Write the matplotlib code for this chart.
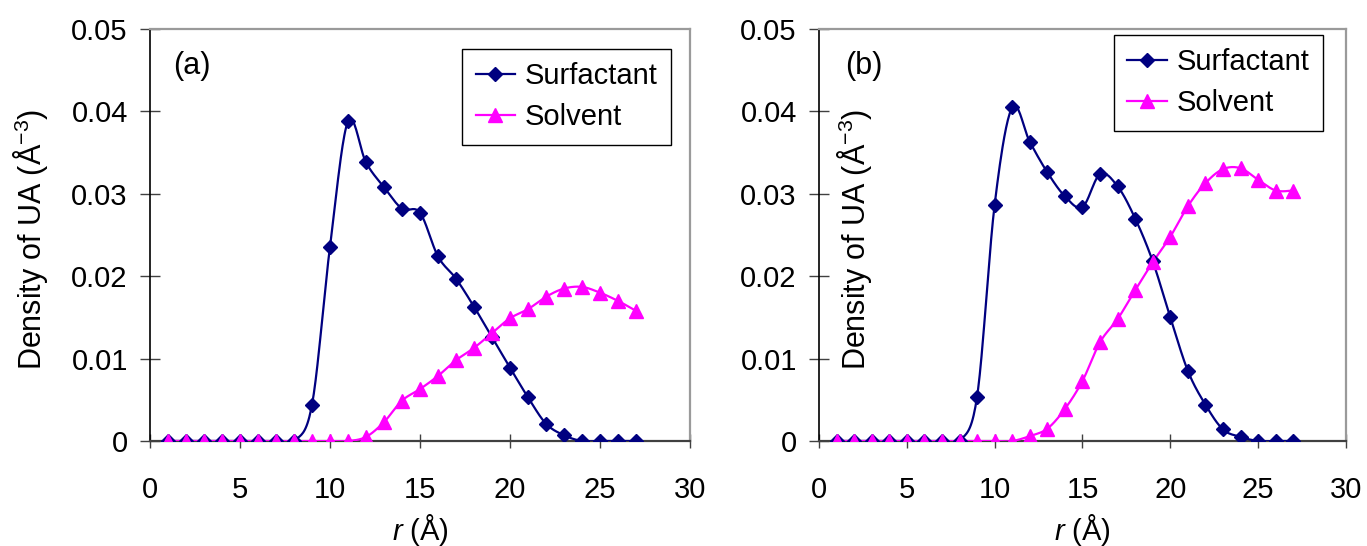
import numpy as np
import matplotlib
matplotlib.use("Agg")
import matplotlib.pyplot as plt
from matplotlib.lines import Line2D

plt.rcParams['font.family'] = ['Liberation Sans', 'DejaVu Sans']
plt.rcParams['mathtext.fontset'] = 'custom'
plt.rcParams['mathtext.rm'] = 'Liberation Sans'
plt.rcParams['mathtext.it'] = 'Liberation Sans:italic'

r = list(range(1, 28))

surf_a = [0, 0, 0, 0, 0, 0, 0, 0, 0.0044, 0.0236, 0.0388, 0.0338, 0.0308, 0.0282,
          0.0277, 0.0224, 0.0197, 0.0163, 0.0126, 0.0089, 0.0053, 0.0021, 0.0007,
          0, 0, 0, 0]
solv_a = [0, 0, 0, 0, 0, 0, 0, 0, 0, 0, 0, 0.0005, 0.0023, 0.0049, 0.0063, 0.0079,
          0.0098, 0.0113, 0.0131, 0.0149, 0.0160, 0.0175, 0.0185, 0.0187, 0.0180,
          0.0170, 0.0158]

surf_b = [0, 0, 0, 0, 0, 0, 0, 0, 0.0054, 0.0287, 0.0405, 0.0363, 0.0326, 0.0297,
          0.0284, 0.0324, 0.0309, 0.0270, 0.0218, 0.0150, 0.0085, 0.0044, 0.0014,
          0.0005, 0, 0, 0]
solv_b = [0, 0, 0, 0, 0, 0, 0, 0, 0, 0, 0, 0.0006, 0.0015, 0.0039, 0.0073, 0.0120,
          0.0148, 0.0183, 0.0217, 0.0248, 0.0285, 0.0313, 0.0330, 0.0331, 0.0317,
          0.0304, 0.0304]

panel_labels = ['(a)', '(b)']
series_names = ['Surfactant', 'Solvent']
xticks = [0, 5, 10, 15, 20, 25, 30]
yticks = [0, 0.01, 0.02, 0.03, 0.04, 0.05]
ytick_labels = ['0', '0.01', '0.02', '0.03', '0.04', '0.05']

NAVY = '#000080'
MAG = '#FF00FF'


def smooth(x, y, n=20):
    """Excel-like smoothed line (Catmull-Rom Bezier) through the data points."""
    x = np.asarray(x, float)
    y = np.asarray(y, float)
    P = np.column_stack([x, y])
    out = [P[0]]
    t = np.linspace(0, 1, n + 1)[1:]
    for i in range(len(P) - 1):
        p0 = P[i - 1] if i > 0 else P[i]
        p1 = P[i]
        p2 = P[i + 1]
        p3 = P[i + 2] if i + 2 < len(P) else P[i + 1]
        c1 = p1 + (p2 - p0) / 6.0
        c2 = p2 - (p3 - p1) / 6.0
        for tt in t:
            b = ((1 - tt) ** 3) * p1 + 3 * ((1 - tt) ** 2) * tt * c1 + \
                3 * (1 - tt) * tt ** 2 * c2 + tt ** 3 * p2
            out.append(b)
    out = np.array(out)
    return out[:, 0], out[:, 1]


fig = plt.figure(figsize=(13.67, 5.46), dpi=100)
H = 546.0
W = 1367.0
ax_a = fig.add_axes([150 / W, (H - 441) / H, 540 / W, 412 / H])
ax_b = fig.add_axes([819 / W, (H - 441) / H, 527 / W, 412 / H])

configs = [
    (ax_a, surf_a, solv_a, panel_labels[0], (0.965, 0.951), -0.185, 1.28),
    (ax_b, surf_b, solv_b, panel_labels[1], (0.956, 0.985), 0.104, 1.48),
]

for ax, s, v, lab, legpos, ylx, labx in configs:
    xs, ys = smooth(r, s)
    ax.plot(xs, ys, color=NAVY, lw=1.6, zorder=3)
    ax.plot(r, s, linestyle='none', marker='D', ms=6.8, color=NAVY, zorder=4)
    xv, yv = smooth(r, v)
    ax.plot(xv, yv, color=MAG, lw=1.6, zorder=3)
    ax.plot(r, v, linestyle='none', marker='^', ms=10, color=MAG, zorder=4)

    ax.set_xlim(0, 30)
    ax.set_ylim(0, 0.05)
    ax.set_xticks(xticks)
    ax.set_xticklabels([str(t) for t in xticks])
    ax.set_yticks(yticks)
    ax.set_yticklabels(ytick_labels)
    ax.tick_params(axis='y', direction='inout', length=14, width=1, labelsize=21,
                   pad=9, color='#404040')
    ax.tick_params(axis='x', direction='inout', length=10, width=1, labelsize=21,
                   pad=20, color='#404040')

    ax.spines['left'].set_color('black')
    ax.spines['left'].set_linewidth(1.2)
    ax.spines['bottom'].set_color('#404040')
    ax.spines['bottom'].set_linewidth(1.6)
    ax.spines['top'].set_color('#9a9a9a')
    ax.spines['top'].set_linewidth(1.6)
    ax.spines['right'].set_color('#9a9a9a')
    ax.spines['right'].set_linewidth(1.6)

    ax.set_xlabel(r'$\mathit{r}$ (Å)', fontsize=21, labelpad=6)
    ax.set_ylabel('Density of UA (Å$^{-3}$)', fontsize=22)
    ax.yaxis.set_label_coords(ylx, 0.49)

    ax.text(labx, 0.0455, lab, fontsize=22, ha='left', va='center')

    handles = [
        Line2D([], [], color=NAVY, lw=1.6, marker='D', ms=6.8),
        Line2D([], [], color=MAG, lw=1.6, marker='^', ms=10),
    ]
    leg = ax.legend(handles, series_names, loc='upper right', bbox_to_anchor=legpos,
                    fontsize=21, frameon=True, fancybox=False, framealpha=1,
                    edgecolor='black', handlelength=1.35, handletextpad=0.35,
                    borderpad=0.45, labelspacing=0.45, borderaxespad=0)
    leg.get_frame().set_linewidth(1.0)

fig.savefig('out.png', dpi=100)
